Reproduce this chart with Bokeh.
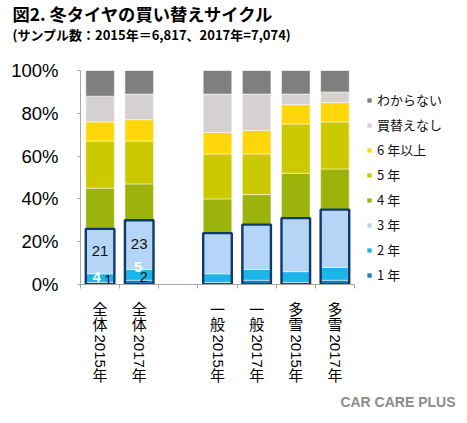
import math
from bokeh.plotting import figure
from bokeh.models import (ColumnDataSource, Legend, LegendItem, FixedTicker, LinearAxis,
                          PrintfTickFormatter, Range1d, Title)
from bokeh.core.properties import value
from bokeh.embed import file_html
from bokeh.resources import INLINE

categories = ["全体2015年", "全体2017年", "一般2015年", "一般2017年", "多雪2015年", "多雪2017年"]
series = ["1 年", "2 年", "3 年", "4 年", "5 年", "6 年以上", "買替えなし", "わからない"]
y1 = [1, 2, 1, 2, 1, 2]
y2 = [4, 5, 4, 5, 5, 6]
y3 = [21, 23, 19, 21, 25, 27]
y4 = [19, 17, 16, 14, 21, 19]
y5 = [22, 20, 21, 19, 23, 22]
y6 = [9, 10, 10, 11, 9, 9]
y7 = [12, 12, 18, 17, 5, 5]
y8 = [12, 11, 11, 11, 11, 10]
yticks = [0, 20, 40, 60, 80, 100]

colors = ["#1a7cc0", "#1bb5ea", "#b4d5f6", "#9bb30a", "#cdc900", "#ffd60a", "#d6d1d1", "#7f7f7f"]
JP = "Noto Sans CJK JP"
AR = "Liberation Sans"

# bar slots: one empty slot between 全体 and the rest
xs = [i + (1 if i >= 2 else 0) + 0.5 for i in range(len(categories))]
W = 0.73
NSLOT = 7
# the frame runs to the right edge so the legend can sit inside it
x_end = NSLOT * (467 - 80) / 274

p = figure(width=467, height=423, x_range=Range1d(0, x_end), y_range=Range1d(0, 100),
           output_backend="svg", toolbar_location=None,
           min_border_left=80, min_border_right=0, min_border_top=70, min_border_bottom=139)
p.outline_line_color = None
p.grid.visible = False

keys = ["y1", "y2", "y3", "y4", "y5", "y6", "y7", "y8"]
src = ColumnDataSource(dict(x=xs, y1=y1, y2=y2, y3=y3, y4=y4, y5=y5, y6=y6, y7=y7, y8=y8))
rs = p.vbar_stack(keys, x="x", width=W, source=src, color=colors,
                  line_color="white", line_width=0.5)

# dark frame around 1-3 years
low3 = [a + b + c for a, b, c in zip(y1, y2, y3)]
p.vbar(x=xs, bottom=0, top=low3, width=W, fill_color=None, line_color="#0d3a6b", line_width=2.4)

# data labels for the 全体 bars
dk_x, dk_y, dk_t, dk_dx, dk_dy = [], [], [], [], []
wt_x, wt_y, wt_t, wt_dx, wt_dy = [], [], [], [], []
nud3 = [0, -1]
nud1 = [(8, -3), (4.5, -5)]
nud2 = [(-3.5, -1), (-1, -8)]
for i in range(2):
    dk_x += [xs[i], xs[i]]
    dk_y += [y1[i] + y2[i] + y3[i] / 2, y1[i] / 2]
    dk_t += [str(y3[i]), str(y1[i])]
    dk_dx += [0, nud1[i][0]]
    dk_dy += [nud3[i], nud1[i][1]]
    wt_x.append(xs[i])
    wt_y.append(y1[i] + y2[i] / 2)
    wt_t.append(str(y2[i]))
    wt_dx.append(nud2[i][0])
    wt_dy.append(nud2[i][1])
p.text(x=dk_x, y=dk_y, text=dk_t, x_offset=dk_dx, y_offset=dk_dy, text_align="center",
       text_baseline="middle", text_font=value(AR), text_font_size="15px", text_color="#111111")
p.text(x=wt_x, y=wt_y, text=wt_t, x_offset=wt_dx, y_offset=wt_dy, text_align="center",
       text_baseline="middle", text_font=value(AR), text_font_size="15px", text_color="white",
       text_font_style="bold")

# axes
p.xaxis.bounds = (0, NSLOT)
p.xaxis.ticker = FixedTicker(ticks=list(range(NSLOT + 1)))
p.xaxis.major_label_overrides = {i: "" for i in range(NSLOT + 1)}
p.xaxis.major_label_standoff = 0
p.xaxis.major_tick_out = 4
p.xaxis.major_tick_in = 0
p.xaxis.minor_tick_line_color = None
p.xaxis.axis_line_color = "#a6a6a6"
p.xaxis.major_tick_line_color = "#a6a6a6"

p.yaxis.ticker = FixedTicker(ticks=yticks)
p.yaxis.formatter = PrintfTickFormatter(format="%d%%")
p.yaxis.major_label_text_font = AR
p.yaxis.major_label_text_font_size = "18.5px"
p.yaxis.major_label_text_color = "black"
p.yaxis.major_label_standoff = 19
p.yaxis.major_tick_out = 3
p.yaxis.major_tick_in = 0
p.yaxis.minor_tick_line_color = None
p.yaxis.axis_line_color = "#a6a6a6"
p.yaxis.major_tick_line_color = "#a6a6a6"


# vertical category names: one extra axis per piece (kanji upright, digits turned)
def split_label(cat):
    parts = []
    i = 0
    while i < len(cat):
        if cat[i].isdigit():
            j = i
            while j < len(cat) and cat[j].isdigit():
                j += 1
            parts.append(cat[i:j])
            i = j
        else:
            parts.append(cat[i])
            i += 1
    return parts


pieces = [split_label(c) for c in categories]
standoffs = [9, -9, -2, -7]
for k in range(len(pieces[0])):
    texts = [pc[k] for pc in pieces]
    digits = texts[0].isdigit()
    ax = LinearAxis(ticker=FixedTicker(ticks=xs),
                    major_label_overrides={x: t for x, t in zip(xs, texts)},
                    axis_line_color=None, major_tick_line_color=None, minor_tick_line_color=None,
                    major_tick_out=0, major_tick_in=0, major_label_standoff=standoffs[k],
                    major_label_text_font=AR if digits else JP,
                    major_label_text_font_size="15px", major_label_text_color="black",
                    major_label_text_line_height=1.0,
                    major_label_orientation=-math.pi / 2 if digits else "horizontal")
    p.add_layout(ax, "below")

# legend, top item = last series
items = [LegendItem(label=series[k], renderers=[rs[k]]) for k in reversed(range(len(series)))]
leg = Legend(items=items, location=(286, 0), glyph_width=6, glyph_height=6, label_height=19,
             spacing=6, padding=0, margin=0, label_standoff=5, border_line_color=None,
             background_fill_alpha=0, label_text_font=JP, label_text_font_size="13px",
             label_text_color="#111111")
p.add_layout(leg)

# titles (first one added sits next to the plot); a blank one keeps the gap above the bars
p.add_layout(Title(text=" ", standoff=23, text_font_size="2px"), "above")
p.add_layout(Title(text="(サンプル数：2015年＝6,817、2017年=7,074)", align="left", offset=-68,
                   standoff=0, text_font=JP, text_font_size="13px", text_font_style="bold",
                   text_color="black"), "above")
p.add_layout(Title(text="図2. 冬タイヤの買い替えサイクル", align="left", offset=-68,
                   standoff=-6, text_font=JP, text_font_size="17.3px", text_font_style="bold",
                   text_color="black"), "above")
p.add_layout(Title(text="CAR CARE PLUS", align="right", offset=12, standoff=8,
                   text_font=AR, text_font_size="14px", text_font_style="bold",
                   text_color="#8c8c8c"), "below")

open("out.html", "w").write(file_html(p, INLINE))
